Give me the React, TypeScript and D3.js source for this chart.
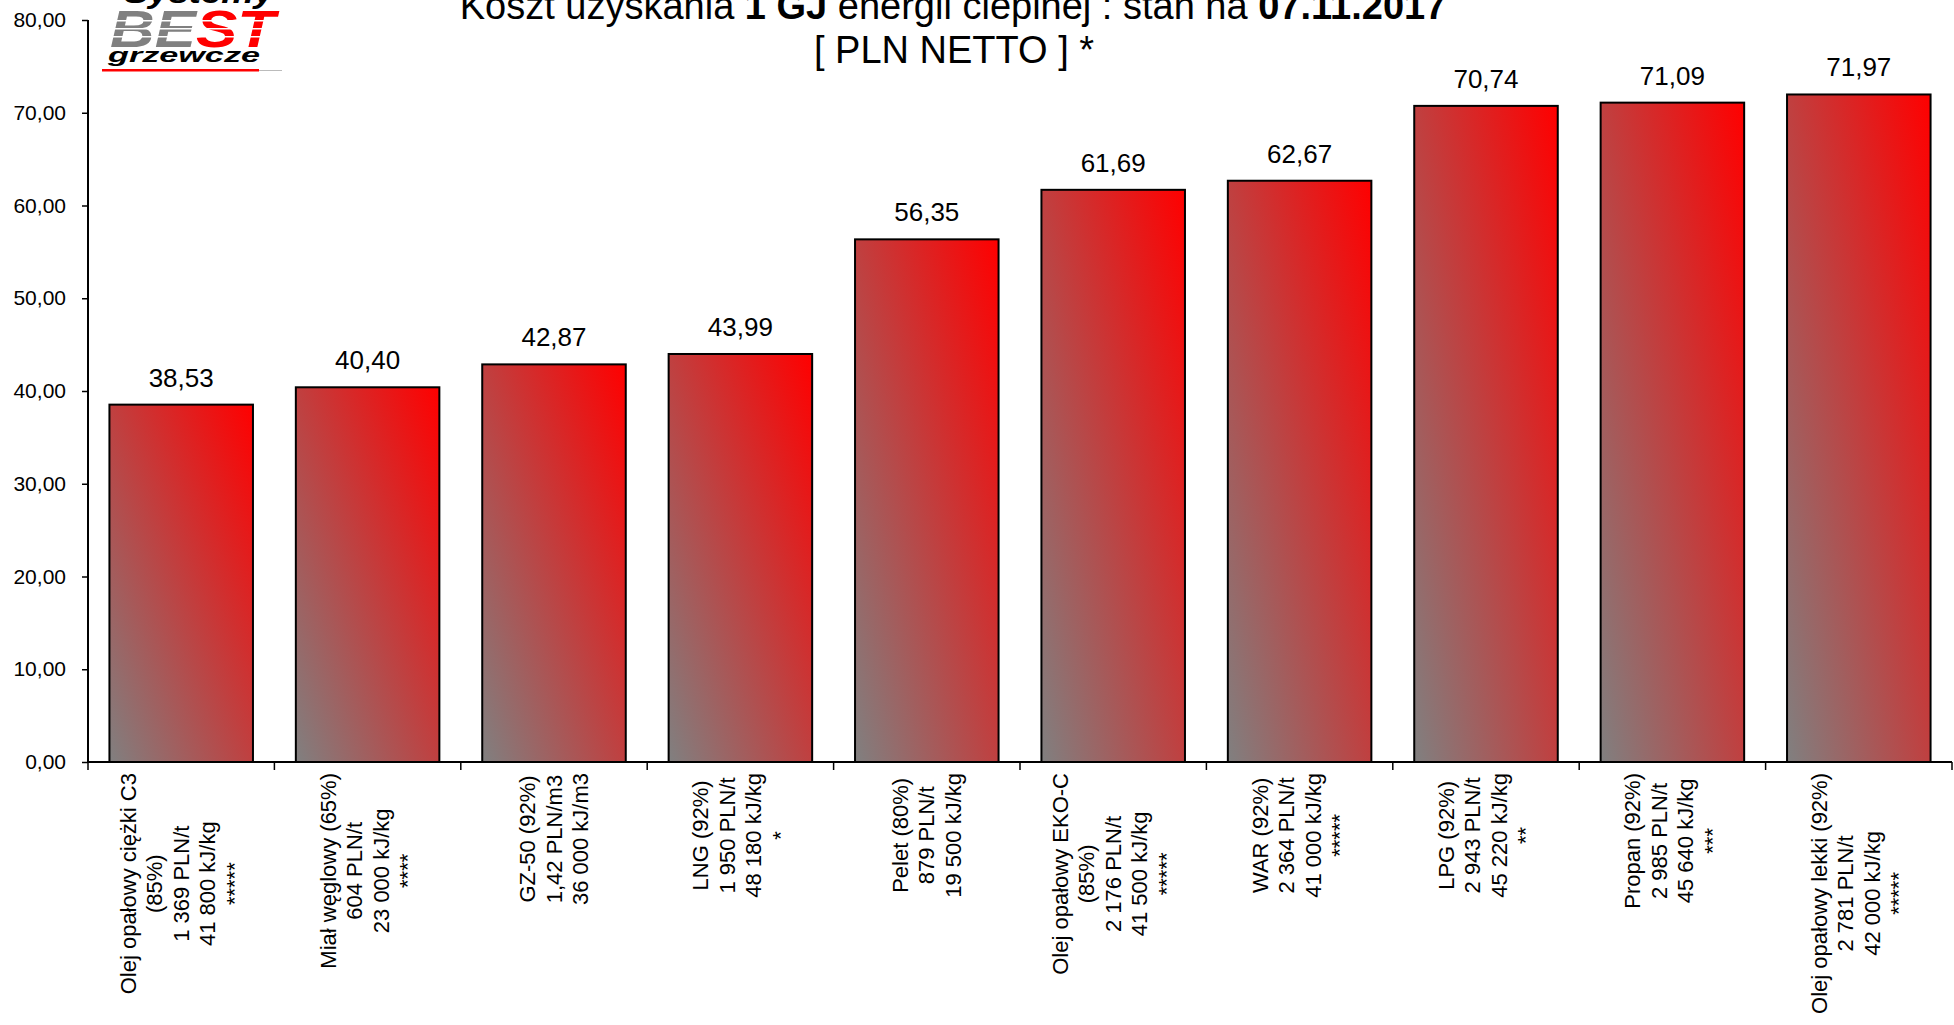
import * as d3 from "d3";
import { useEffect, useRef } from "react";

// Values (PLN per 1 GJ)
const values = [38.53, 40.4, 42.87, 43.99, 56.35, 61.69, 62.67, 70.74, 71.09, 71.97];

// Category labels, one line per entry
const labelLines = [
  ["Olej opałowy ciężki C3", "(85%)", "1 369 PLN/t", "41 800 kJ/kg", "*****"],
  ["Miał węglowy (65%)", "604 PLN/t", "23 000 kJ/kg", "****"],
  ["GZ-50 (92%)", "1,42 PLN/m3", "36 000 kJ/m3"],
  ["LNG (92%)", "1 950 PLN/t", "48 180 kJ/kg", "*"],
  ["Pelet (80%)", "879 PLN/t", "19 500 kJ/kg"],
  ["Olej opałowy EKO-C", "(85%)", "2 176 PLN/t", "41 500 kJ/kg", "*****"],
  ["WAR (92%)", "2 364 PLN/t", "41 000 kJ/kg", "*****"],
  ["LPG (92%)", "2 943 PLN/t", "45 220 kJ/kg", "**"],
  ["Propan (92%)", "2 985 PLN/t", "45 640 kJ/kg", "***"],
  ["Olej opałowy lekki (92%)", "2 781 PLN/t", "42 000 kJ/kg", "*****"],
];

const yTicks = [0, 10, 20, 30, 40, 50, 60, 70, 80];

const FONT = "'Liberation Sans', Arial, sans-serif";

const plLocale = d3.formatLocale({ decimal: ",", thousands: " ", grouping: [3], currency: ["", " zł"] });
const fmt = plLocale.format(".2f");

const App = () => {
  const svgRef = useRef<SVGSVGElement>(null);

  useEffect(() => {
    if (!svgRef.current) return;
    const width = 1954;
    const height = 1025;
    const margin = { top: 20, left: 88, right: 2, bottom: 263 };

    const svg = d3.select(svgRef.current).attr("width", width).attr("height", height);
    svg.selectAll("*").remove();

    const idx = values.map((_, i) => String(i));
    const x = d3
      .scaleBand()
      .domain(idx)
      .range([margin.left, width - margin.right])
      .paddingInner(0.23)
      .paddingOuter(0.115);
    const y = d3
      .scaleLinear()
      .domain([0, 80])
      .range([height - margin.bottom, margin.top]);

    // gradient fill: grey bottom-left -> red top-right
    const grad = svg
      .append("defs")
      .append("linearGradient")
      .attr("id", "barGrad")
      .attr("x1", 0)
      .attr("y1", 1)
      .attr("x2", 1)
      .attr("y2", 0);
    grad.append("stop").attr("offset", "0%").attr("stop-color", "#808080");
    grad.append("stop").attr("offset", "100%").attr("stop-color", "#ff0000");

    // bars
    svg
      .append("g")
      .selectAll("rect")
      .data(values)
      .join("rect")
      .attr("x", (_, i) => x(String(i))!)
      .attr("y", d => y(d))
      .attr("width", x.bandwidth())
      .attr("height", d => y(0) - y(d))
      .attr("fill", "url(#barGrad)")
      .attr("stroke", "#000")
      .attr("stroke-width", 2);

    // value labels
    svg
      .append("g")
      .selectAll("text")
      .data(values)
      .join("text")
      .attr("x", (_, i) => x(String(i))! + x.bandwidth() / 2)
      .attr("y", d => y(d) - 18)
      .attr("text-anchor", "middle")
      .attr("font-family", FONT)
      .attr("font-size", 26)
      .text(d => fmt(d));

    // y axis
    const yAxis = svg
      .append("g")
      .attr("transform", `translate(${margin.left},0)`)
      .call(
        d3
          .axisLeft(y)
          .tickValues(yTicks)
          .tickSize(6)
          .tickPadding(16)
          .tickFormat(d => fmt(d as number))
      );
    yAxis.select(".domain").attr("stroke", "#000").attr("stroke-width", 2).attr("d", `M0,${y(80)}V${y(0)}`);
    yAxis.selectAll(".tick line").attr("stroke", "#000").attr("stroke-width", 1.5);
    yAxis.selectAll(".tick text").attr("font-family", FONT).attr("font-size", 21).attr("fill", "#000");

    // x axis: baseline and ticks between categories
    const step = x.step();
    const x0 = margin.left;
    const xEnd = x0 + step * values.length;
    svg
      .append("line")
      .attr("x1", x0)
      .attr("x2", xEnd)
      .attr("y1", y(0))
      .attr("y2", y(0))
      .attr("stroke", "#000")
      .attr("stroke-width", 2);
    svg
      .append("g")
      .selectAll("line")
      .data(d3.range(values.length + 1))
      .join("line")
      .attr("x1", i => x0 + i * step)
      .attr("x2", i => x0 + i * step)
      .attr("y1", y(0))
      .attr("y2", y(0) + 8)
      .attr("stroke", "#000")
      .attr("stroke-width", 1.5);

    // rotated category labels
    const lineGap = 26.5;
    const labelTop = y(0) + 11;
    labelLines.forEach((lines, i) => {
      const cx = x(String(i))! + x.bandwidth() / 2;
      const g = svg.append("g");
      const texts = lines.map((ln, j) => {
        const lx = cx + (j - (lines.length - 1) / 2) * lineGap;
        return g
          .append("text")
          .attr("font-family", FONT)
          .attr("font-size", 22)
          .attr("text-anchor", "middle")
          .attr("dy", "0.35em")
          .attr("data-x", lx)
          .text(ln);
      });
      const maxLen = d3.max(texts, t => (t.node() as SVGTextElement).getComputedTextLength()) ?? 0;
      const cy = labelTop + maxLen / 2;
      texts.forEach(t => {
        const lx = +t.attr("data-x");
        t.attr("x", lx).attr("y", cy).attr("transform", `rotate(-90,${lx},${cy})`);
      });
    });

    // title
    const title = svg
      .append("text")
      .attr("x", 953)
      .attr("y", 19)
      .attr("text-anchor", "middle")
      .attr("font-family", FONT)
      .attr("font-size", 38);
    title.append("tspan").text("Koszt uzyskania ");
    title.append("tspan").attr("font-weight", "bold").text("1 GJ");
    title.append("tspan").text(" energii cieplnej : stan na ");
    title.append("tspan").attr("font-weight", "bold").text("07.11.2017");
    svg
      .append("text")
      .attr("x", 954)
      .attr("y", 63)
      .attr("text-anchor", "middle")
      .attr("font-family", FONT)
      .attr("font-size", 38)
      .text("[ PLN NETTO ] *");

    // logo
    const logo = svg.append("g");
    logo
      .append("text")
      .attr("x", 124)
      .attr("y", 3)
      .attr("font-family", FONT)
      .attr("font-weight", "bold")
      .attr("font-style", "italic")
      .attr("font-size", 30)
      .attr("textLength", 150)
      .attr("lengthAdjust", "spacingAndGlyphs")
      .text("Systemy");
    const best = logo
      .append("text")
      .attr("x", 110)
      .attr("y", 47)
      .attr("font-family", FONT)
      .attr("font-weight", "bold")
      .attr("font-style", "italic")
      .attr("font-size", 52)
      .attr("textLength", 165)
      .attr("lengthAdjust", "spacingAndGlyphs");
    best.append("tspan").attr("fill", "#808080").text("BE");
    best.append("tspan").attr("fill", "#ff0000").text("ST");
    [20, 28, 36].forEach(ly => {
      logo.append("rect").attr("x", 105).attr("y", ly).attr("width", 175).attr("height", 1.5).attr("fill", "#fff");
    });
    logo
      .append("text")
      .attr("x", 108)
      .attr("y", 62)
      .attr("font-family", FONT)
      .attr("font-weight", "bold")
      .attr("font-style", "italic")
      .attr("font-size", 20)
      .attr("textLength", 152)
      .attr("lengthAdjust", "spacingAndGlyphs")
      .text("grzewcze");
    logo.append("rect").attr("x", 102).attr("y", 69).attr("width", 157).attr("height", 2.5).attr("fill", "#ff0000");
    logo.append("rect").attr("x", 259).attr("y", 70).attr("width", 23).attr("height", 1).attr("fill", "#bbb");
  }, []);

  return (
    <div style={{ position: "absolute", left: 0, top: 0 }}>
      <svg ref={svgRef} style={{ display: "block", background: "#fff" }}></svg>
    </div>
  );
};

export default App;
